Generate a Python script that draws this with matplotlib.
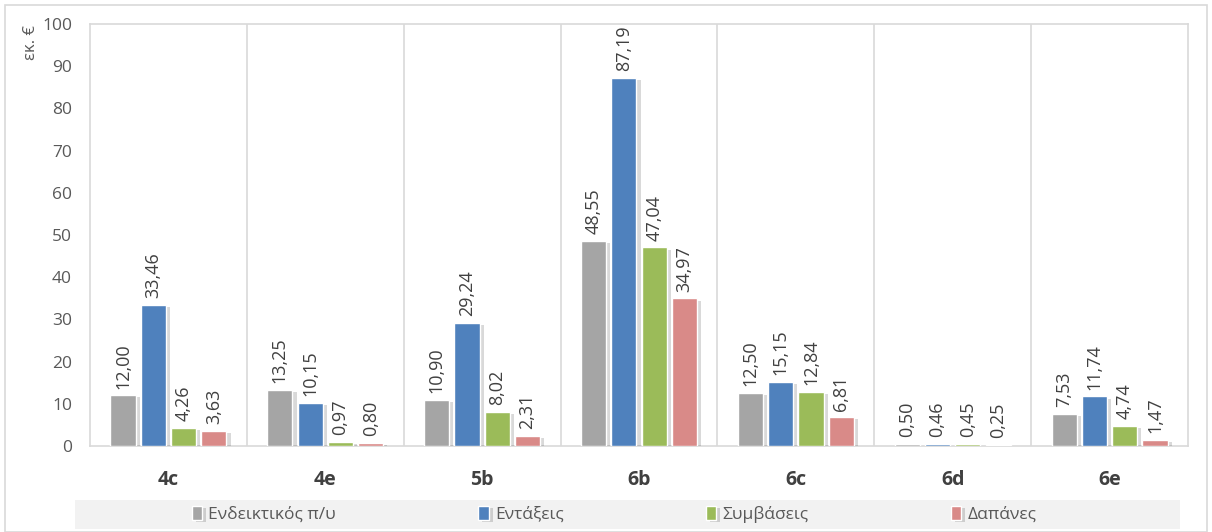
import numpy as np
import matplotlib.pyplot as plt
import matplotlib.patheffects as pe
from matplotlib.patches import Rectangle

# ----------------------------------------------------------------------------
# Data
# ----------------------------------------------------------------------------
categories = ["4c", "4e", "5b", "6b", "6c", "6d", "6e"]
series_names = ["Ενδεικτικός π/υ", "Εντάξεις", "Συμβάσεις", "Δαπάνες"]
endeiktikos = [12.00, 13.25, 10.90, 48.55, 12.50, 0.50, 7.53]
entaxeis = [33.46, 10.15, 29.24, 87.19, 15.15, 0.46, 11.74]
symvaseis = [4.26, 0.97, 8.02, 47.04, 12.84, 0.45, 4.74]
dapanes = [3.63, 0.80, 2.31, 34.97, 6.81, 0.25, 1.47]

COLORS = ["#A5A5A5", "#4F81BD", "#9BBB59", "#D98A88"]
GRID = "#D9D9D9"
TXT = "#595959"

plt.rcParams["font.family"] = ["Open Sans", "DejaVu Sans"]

fig = plt.figure(figsize=(12.12, 5.32), dpi=100)
W, H = 1212, 532
ax = fig.add_axes([90 / W, 1 - 446 / H, (1188 - 90) / W, (446 - 24) / H])

x = np.arange(len(categories))
width = 0.16
step = 0.193
offsets = (np.arange(4) - 1.5) * step

# soft Excel-like drop shadow on the bars
shadow = [pe.SimplePatchShadow(offset=(3, -1.5), shadow_rgbFace="#000000", alpha=0.15),
          pe.Normal()]

for i, vals in enumerate([endeiktikos, entaxeis, symvaseis, dapanes]):
    bars = ax.bar(x + offsets[i], vals, width, color=COLORS[i], edgecolor="white",
                  linewidth=1.0, label=series_names[i], zorder=3)
    for b in bars:
        b.set_path_effects(shadow)
    for xi, v in zip(x + offsets[i], vals):
        ax.text(xi, v + 1.6, f"{v:.2f}".replace(".", ","), rotation=90,
                ha="center", va="bottom", fontsize=13, color="#404040")

ax.set_xlim(-0.5, len(categories) - 0.5)
ax.set_ylim(0, 100)
ax.set_yticks(range(0, 101, 10))
ax.tick_params(axis="y", length=0, labelsize=12.5, labelcolor=TXT, pad=13)
ax.set_xticks(x)
ax.set_xticklabels(categories, fontsize=14, fontweight="bold", color="#404040")
ax.tick_params(axis="x", length=0, pad=17)

for s in ax.spines.values():
    s.set_color(GRID)
    s.set_linewidth(1.2)
for b in np.arange(0.5, len(categories) - 0.5, 1):
    ax.axvline(b, color=GRID, lw=1.2, zorder=1)

fig.text(31 / W, 1 - 42 / H, "εκ. €", rotation=90, ha="center", va="center",
         fontsize=12, color=TXT)

# legend band
fig.patches.append(Rectangle((75 / W, 1 - 529 / H), (1180 - 75) / W, 29 / H,
                             transform=fig.transFigure, facecolor="#F2F2F2",
                             edgecolor="none", zorder=0))
leg = fig.legend(loc="center", bbox_to_anchor=(0.5 + 8 / W, 1 - 514.5 / H),
                 ncol=4, frameon=False, fontsize=12.5, handlelength=0.6,
                 handleheight=0.85, columnspacing=8.2, handletextpad=0.35)
for t in leg.get_texts():
    t.set_color(TXT)

# outer border
fig.patches.append(Rectangle((5 / W, 0), 1202 / W, 1 - 5 / H,
                             transform=fig.transFigure, facecolor="none",
                             edgecolor=GRID, lw=1.2))

fig.savefig("out.png", dpi=100)
